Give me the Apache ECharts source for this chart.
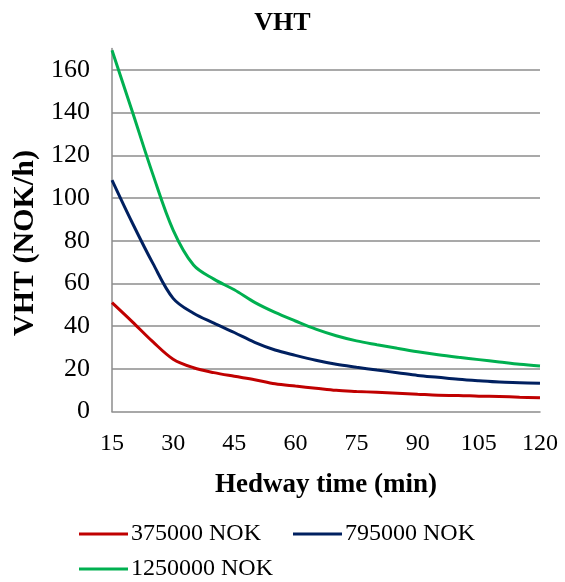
<!DOCTYPE html>
<html>
<head>
<meta charset="utf-8">
<script src="https://cdn.jsdelivr.net/npm/echarts@6/dist/echarts.min.js"></script>
<style>
  html, body { margin: 0; padding: 0; background: #fff; }
  #chart { width: 565px; height: 582px; }
</style>
</head>
<body>
<div id="chart"></div>
<script>
// Headway time (min), sampled every 5 minutes
const headway = [15, 20, 25, 30, 35, 40, 45, 50, 55, 60, 65, 70, 75, 80, 85, 90, 95, 100, 105, 110, 115, 120];

// VHT (NOK/h) for each vehicle cost level
const vht375 = [51, 42, 32.7, 24.5, 20.5, 18.2, 16.5, 14.9, 13.0, 11.9, 10.9, 9.9, 9.4, 9.0, 8.6, 8.1, 7.6, 7.5, 7.2, 7.0, 6.7, 6.4];
const vht795 = [108.4, 88.3, 69.5, 53, 46, 41.4, 37, 32.4, 28.8, 26.3, 24.0, 22.1, 20.7, 19.4, 18.2, 16.9, 16.0, 15.1, 14.4, 13.8, 13.5, 13.2];
const vht1250 = [169.2, 140.4, 111.2, 85, 68.6, 62, 57, 51.1, 46.4, 42.4, 38.6, 35.5, 33.1, 31.3, 29.6, 28.0, 26.6, 25.4, 24.3, 23.2, 22.1, 21.3];

const seriesNames = ['375000 NOK', '795000 NOK', '1250000 NOK'];
const seriesColors = ['#C00000', '#002060', '#00B050'];
const seriesValues = [vht375, vht795, vht1250];

const FONT = '"Liberation Serif", "Times New Roman", serif';
const GRID_GRAY = '#8c8c8c';

const chart = echarts.init(document.getElementById('chart'));

const legendText = { fontFamily: FONT, fontSize: 24, color: '#000', padding: [0, 0, 0, -2] };

chart.setOption({
  animation: false,
  backgroundColor: '#ffffff',
  title: {
    text: 'VHT',
    left: 'center',
    top: 5,
    textStyle: { fontFamily: FONT, fontSize: 26, fontWeight: 'bold', color: '#000' }
  },
  legend: [
    {
      data: seriesNames.slice(0, 2),
      left: 74,
      top: 517,
      icon: 'rect',
      itemWidth: 49,
      itemHeight: 3,
      itemGap: 32,
      textStyle: legendText
    },
    {
      data: seriesNames.slice(2),
      left: 74,
      top: 552,
      icon: 'rect',
      itemWidth: 49,
      itemHeight: 3,
      textStyle: legendText
    }
  ],
  grid: { left: 112, right: 25, top: 48.6, bottom: 170.5, containLabel: false },
  xAxis: {
    type: 'value',
    min: 15,
    max: 120,
    interval: 15,
    name: 'Hedway time (min)',
    nameLocation: 'middle',
    nameGap: 60,
    nameTextStyle: { fontFamily: FONT, fontSize: 27, fontWeight: 'bold', color: '#000' },
    axisLine: { show: true, lineStyle: { color: GRID_GRAY, width: 1.5 } },
    axisTick: { show: false },
    splitLine: { show: false },
    axisLabel: { fontFamily: FONT, fontSize: 24, color: '#000', margin: 20 }
  },
  yAxis: {
    type: 'value',
    min: 0,
    max: 170,
    interval: 20,
    name: 'VHT (NOK/h)',
    nameLocation: 'middle',
    nameGap: 72,
    nameRotate: 90,
    nameTextStyle: {
      fontFamily: FONT, fontSize: 30, fontWeight: 'bold', color: '#000',
      padding: [0, 26, 0, 0]
    },
    axisLine: { show: true, lineStyle: { color: GRID_GRAY, width: 1.5 } },
    axisTick: { show: false },
    splitLine: { show: true, showMinLine: false, showMaxLine: false, lineStyle: { color: GRID_GRAY, width: 1.5 } },
    axisLabel: {
      fontFamily: FONT, fontSize: 26, color: '#000', margin: 22,
      showMaxLabel: false
    }
  },
  series: seriesValues.map((vals, i) => ({
    name: seriesNames[i],
    type: 'line',
    data: headway.map((h, j) => [h, vals[j]]),
    smooth: 0.35,
    showSymbol: false,
    symbol: 'none',
    lineStyle: { color: seriesColors[i], width: 3 },
    itemStyle: { color: seriesColors[i] },
    z: 3
  }))
});
</script>
</body>
</html>
